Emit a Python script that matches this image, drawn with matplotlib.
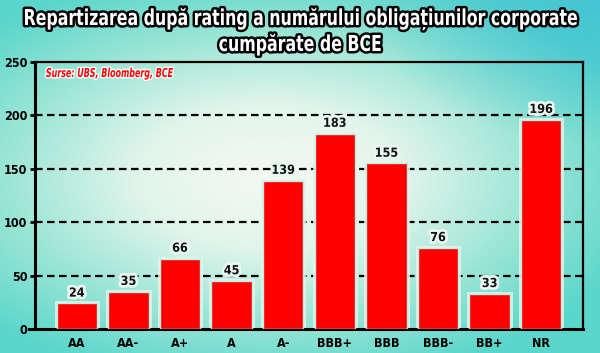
import numpy as np
import matplotlib
matplotlib.use("Agg")
from matplotlib import pyplot as plt
from matplotlib import patheffects as pe
from matplotlib.colors import LinearSegmentedColormap
from matplotlib.textpath import TextPath
from matplotlib.font_manager import FontProperties
from matplotlib.patches import PathPatch
from matplotlib.transforms import Affine2D

ratings = ['AA', 'AA-', 'A+', 'A', 'A-', 'BBB+', 'BBB', 'BBB-', 'BB+', 'NR']
counts = [24, 35, 66, 45, 139, 183, 155, 76, 33, 196]
y_ticks = [0, 50, 100, 150, 200, 250]

title_lines = ['Repartizarea după rating a numărului obligațiunilor corporate',
               'cumpărate de BCE']
source = 'Surse: UBS, Bloomberg, BCE'

plt.rcParams['font.family'] = ['DejaVu Sans']
plt.rcParams['font.stretch'] = 'condensed'

W, H = 600, 353
fig = plt.figure(figsize=(W / 100, H / 100), dpi=100)


def squeezed_text(text, baseline, cap_px, x_left=None, width_px=None, x_center=None,
                  sx=None, face='white', edge='black', lw=3.0, style='normal'):
    """Draw text as a path, stretched to a narrow, tall look (pixel coordinates)."""
    fp = FontProperties(family='DejaVu Sans', weight='bold', stretch='condensed', style=style)
    tp = TextPath((0, 0), text, size=1, prop=fp)
    ext = tp.get_extents()
    sy = cap_px / 0.729
    if sx is None:
        sx = width_px / ext.width
    if x_left is None:
        x_left = x_center - ext.width * sx / 2
    tr = (Affine2D().translate(-ext.x0, 0).scale(sx, sy)
          .translate(x_left, H - baseline).scale(1 / W, 1 / H) + fig.transFigure)
    fig.patches.append(PathPatch(tp, transform=tr, facecolor=edge, edgecolor=edge,
                                 linewidth=lw, joinstyle='round', zorder=5))
    fig.patches.append(PathPatch(tp, transform=tr, facecolor=face, edgecolor='none',
                                 zorder=6))
    return sx


# background: light centre, turquoise towards the edges
bg = fig.add_axes([0, 0, 1, 1], zorder=-10)
yy, xx = np.mgrid[0:1:200j, 0:1:340j]
d = np.sqrt(((xx - 0.45) / 0.65) ** 2 + ((yy - 0.5) / 0.6) ** 2)
d = np.clip(d, 0, 1)
cmap = LinearSegmentedColormap.from_list('bg', ['#f4f9f2', '#e2f5ec', '#9de6d6', '#5ad6cb'])
bg.imshow(d, cmap=cmap, extent=[0, 1, 0, 1], aspect='auto', origin='lower')
# bluer top-right corner
corner = np.clip(1 - np.sqrt((xx - 1) ** 2 + (yy - 1) ** 2) / 0.4, 0, 1)
rgba = np.zeros(corner.shape + (4,))
rgba[..., :3] = matplotlib.colors.to_rgb('#3cbcd8')
rgba[..., 3] = corner * 0.7
bg.imshow(rgba, extent=[0, 1, 0, 1], aspect='auto', origin='lower')
bg.set_axis_off()

ax = fig.add_axes([35 / W, 24 / H, 548 / W, 267 / H])
ax.patch.set_alpha(0)
x = np.arange(len(ratings))
# light halo behind the bars that breaks the grid lines
ax.bar(x, counts, width=0.78, color='#e4f6ee', edgecolor='#e4f6ee', linewidth=3.5,
       alpha=0.85, zorder=2)
ax.bar(x, counts, width=0.78, color='#ff0000', edgecolor='#bfeee2', linewidth=1.0, zorder=3)

for xi, v in zip(x, counts):
    ax.text(xi, v + 3.5, str(v), ha='center', va='bottom', fontsize=9,
            fontweight='bold', color='#111111', zorder=4,
            path_effects=[pe.withStroke(linewidth=4, foreground='#e8f7f0')])

ax.set_xlim(-0.81, 9.81)
ax.set_ylim(0, 250)
ax.set_yticks(y_ticks)
ax.set_yticklabels([str(t) for t in y_ticks], fontsize=9, fontweight='bold')
ax.set_xticks(x)
ax.set_xticklabels(ratings, fontsize=9, fontweight='bold')
ax.tick_params(axis='y', length=3.6, width=2, pad=2)
ax.tick_params(axis='x', length=0, pad=6)

for t in y_ticks[1:-1]:
    ax.axhline(t, color='black', linestyle=(0, (3.4, 2.0)), linewidth=1.6, zorder=1)

ax.spines['left'].set_linewidth(2.2)
ax.spines['bottom'].set_linewidth(2.2)
ax.spines['right'].set_linewidth(1.6)
ax.spines['top'].set_linewidth(1.6)
ax.spines['bottom'].set_bounds(-0.92, 9.81)

# title: narrow, heavy white lettering with a black outline
sx = squeezed_text(title_lines[0], baseline=25, cap_px=16, x_left=25, width_px=552, lw=3.5)
squeezed_text(title_lines[1], baseline=51, cap_px=16, x_center=300, sx=sx, lw=3.5)

# source note
squeezed_text(source, baseline=77, cap_px=9, x_left=46, width_px=127,
              face='#ff0000', edge='white', lw=2.0, style='italic')

fig.savefig('out.png', dpi=100)
